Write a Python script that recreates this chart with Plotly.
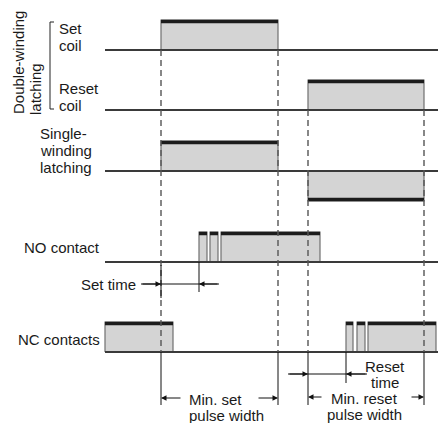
import plotly.graph_objects as go

# ---------------- data (time values on the x axis) ----------------
t_axis = [105, 438]                      # start / end of every time line
set_coil_on = [161]
set_coil_off = [278]
reset_coil_on = [308]
reset_coil_off = [424]
single_on = [161, 308]
single_off = [278, 424]
single_dir = [1, -1]                     # +1 = positive pulse, -1 = negative pulse
no_on = [199, 210, 221]
no_off = [207, 218, 320]
nc_on = [105, 346, 357, 368]
nc_off = [173, 353, 365, 436]
set_time = [161, 199]
reset_time = [308, 346]
min_set_pulse = [161, 278]
min_reset_pulse = [308, 424]

# ---------------- layout constants ----------------
W, H = 438, 423
BASE = {"set": 50, "reset": 110, "single": 171, "no": 262, "nc": 352}
AMP = 30
FILL = "#d4d4d4"
EDGE = "#707070"
TOPC = "#1c1c1c"
BASEC = "#3a3a3a"
TXT = "#1a1a1a"
FONT = dict(family="Liberation Sans, Arial, sans-serif", size=15, color=TXT)

fig = go.Figure()

def line(xs, ys, color="#000", width=1, dash=None):
    fig.add_trace(go.Scatter(x=xs, y=ys, mode="lines", hoverinfo="skip", showlegend=False,
                             line=dict(color=color, width=width, dash=dash)))

def pulses(ons, offs, base, dirs=None):
    for i, (a, b) in enumerate(zip(ons, offs)):
        d = 1 if dirs is None else dirs[i]
        top = base - d * AMP
        fig.add_trace(go.Scatter(x=[a, a, b, b, a], y=[base, top, top, base, base], mode="lines",
                                 fill="toself", fillcolor=FILL, hoverinfo="skip", showlegend=False,
                                 line=dict(color=EDGE, width=1.2)))
        line([a, b], [top + d * 1.5, top + d * 1.5], TOPC, 3.5)

pulses(set_coil_on, set_coil_off, BASE["set"])
pulses(reset_coil_on, reset_coil_off, BASE["reset"])
pulses(single_on, single_off, BASE["single"], single_dir)
pulses(no_on, no_off, BASE["no"])
pulses(nc_on, nc_off, BASE["nc"])

# time lines
for k in ["set", "reset", "single", "no", "nc"]:
    line(t_axis, [BASE[k], BASE[k]], BASEC, 2)

# dashed guide lines
DASH = "6px,4px"
line([set_coil_on[0]] * 2, [BASE["set"], BASE["nc"]], "#555", 1.4, DASH)
line([set_coil_off[0]] * 2, [BASE["set"], BASE["nc"]], "#555", 1.4, DASH)
line([reset_coil_on[0]] * 2, [BASE["reset"], BASE["nc"]], "#555", 1.4, DASH)
line([reset_coil_off[0]] * 2, [BASE["reset"], BASE["nc"]], "#555", 1.4, DASH)

# solid extension lines
line([set_time[0]] * 2, [BASE["no"] + 3, BASE["no"] + 36], "#111", 1)
line([set_time[1]] * 2, [BASE["no"], BASE["no"] + 30], "#111", 1)
line([reset_time[1]] * 2, [BASE["nc"], BASE["nc"] + 31], "#111", 1)
for xv in min_set_pulse + min_reset_pulse:
    line([xv, xv], [BASE["nc"], BASE["nc"] + 53], "#111", 1)

# dimension lines
y_set_t = 284
y_reset_t = 374
y_min_set = 398
y_min_reset = 397
line([set_time[0] - 20, set_time[1] + 20], [y_set_t, y_set_t], "#111", 1)
line([reset_time[0] - 20, reset_time[1] + 21], [y_reset_t, y_reset_t], "#111", 1)

def arrow(x_head, x_tail, y):
    fig.add_annotation(x=x_head, y=y, ax=x_tail, ay=y, xref="x", yref="y", axref="x", ayref="y",
                       text="", showarrow=True, arrowhead=2, arrowsize=1.1, arrowwidth=1,
                       arrowcolor="#111", standoff=0)

arrow(set_time[0], set_time[0] - 20, y_set_t)
arrow(set_time[1], set_time[1] + 20, y_set_t)
arrow(reset_time[0], reset_time[0] - 20, y_reset_t)
arrow(reset_time[1], reset_time[1] + 21, y_reset_t)
arrow(min_set_pulse[0], min_set_pulse[0] + 21, y_min_set)
arrow(min_set_pulse[1], min_set_pulse[1] - 21, y_min_set)
arrow(min_reset_pulse[0], min_reset_pulse[0] + 15, y_min_reset)
arrow(min_reset_pulse[1], min_reset_pulse[1] - 14, y_min_reset)

# bracket
line([54, 50, 50, 54], [22, 22, 109, 109], "#222", 1)

def text(t, x, y, xanchor="left", align="left", angle=0):
    fig.add_annotation(x=x, y=y, xref="x", yref="y", text=t, showarrow=False, xanchor=xanchor,
                       yanchor="middle", align=align, textangle=angle, font=FONT)

def lines(ts, x, y0, step=17, xanchor="left"):
    for i, t in enumerate(ts):
        text(t, x, y0 + i * step, xanchor=xanchor, align=xanchor if xanchor != "center" else "center")

lines(["Set", "coil"], 57, 28)
lines(["Reset", "coil"], 57, 88)
text("Double-winding", 18, 63, xanchor="center", angle=-90)
text("latching", 35, 89, xanchor="center", angle=-90)
lines(["Single-", "winding", "latching"], 38, 133)
text("NO contact", 102, 247, xanchor="right", align="right")
text("Set time", 138, 284, xanchor="right", align="right")
text("NC contacts", 102, 339, xanchor="right", align="right")
lines(["Reset", "time"], 385, 366, step=16, xanchor="center")
lines(["Min. set", "pulse width"], 187, 399, step=16)
lines(["Min. reset", "pulse width"], 364, 398, step=16, xanchor="center")

fig.update_layout(width=W, height=H, autosize=False, margin=dict(l=0, r=0, t=0, b=0),
                  paper_bgcolor="white", plot_bgcolor="white",
                  xaxis=dict(range=[0, W], visible=False, fixedrange=True),
                  yaxis=dict(range=[H, 0], visible=False, fixedrange=True))

fig.write_html("out.html", config={"displayModeBar": False},
               post_script="document.body.style.margin='0';document.body.style.overflow='hidden';")
